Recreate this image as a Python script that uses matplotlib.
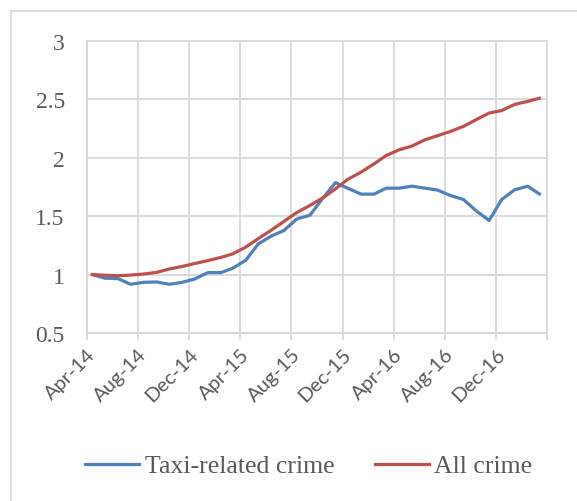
import matplotlib.pyplot as plt
import matplotlib.patches as mpatches
import pandas as pd

# monthly index, Apr-2014 .. Mar-2017 (plotted mid-month like the Excel date axis)
months = pd.date_range("2014-04-01", periods=36, freq="MS") + pd.Timedelta(days=13)

taxi_crime = [1.00, 0.969, 0.966, 0.917, 0.934, 0.937, 0.917, 0.934, 0.963, 1.017,
              1.017, 1.054, 1.122, 1.262, 1.330, 1.377, 1.477, 1.508, 1.650, 1.788,
              1.738, 1.689, 1.689, 1.740, 1.740, 1.757, 1.740, 1.724, 1.677, 1.643,
              1.547, 1.463, 1.643, 1.726, 1.757, 1.690]
all_crime = [1.00, 0.995, 0.990, 0.996, 1.005, 1.019, 1.048, 1.070, 1.095, 1.120,
             1.147, 1.177, 1.235, 1.308, 1.380, 1.455, 1.532, 1.592, 1.655, 1.734,
             1.817, 1.877, 1.948, 2.020, 2.069, 2.100, 2.154, 2.189, 2.226, 2.269,
             2.326, 2.383, 2.405, 2.457, 2.483, 2.510]

tick_dates = pd.date_range("2014-04-01", "2017-04-01", freq="4MS")
tick_labels = ["Apr-14", "Aug-14", "Dec-14", "Apr-15", "Aug-15", "Dec-15",
               "Apr-16", "Aug-16", "Dec-16", ""]
y_ticks = [0.5, 1, 1.5, 2, 2.5, 3]

BLUE = "#4F81BD"
RED = "#C0504D"
GRID = "#D9D9D9"
TEXT = "#595959"

fig = plt.figure(figsize=(5.77, 5.02), dpi=100)
ax = fig.add_axes([87 / 577, 1 - 334 / 502, 460 / 577, 292 / 502])

# outer chart border (cropped on right/bottom)
fig.add_artist(mpatches.Rectangle((11 / 577, -0.2), 1.2, 1.2 - 12 / 502,
                                  transform=fig.transFigure, fill=False,
                                  edgecolor=GRID, linewidth=1.2))

ax.plot(months, taxi_crime, color=BLUE, linewidth=2.3, label="Taxi-related crime",
        solid_joinstyle="round")
ax.plot(months, all_crime, color=RED, linewidth=2.3, label="All crime",
        solid_joinstyle="round")

ax.set_xlim(tick_dates[0], tick_dates[-1])
ax.set_ylim(0.5, 3)
ax.set_yticks(y_ticks)
ax.set_yticklabels(["0.5", "1", "1.5", "2", "2.5", "3"],
                   family="Liberation Serif", fontsize=17, color=TEXT)
ax.set_xticks(tick_dates)
ax.set_xticklabels(tick_labels, rotation=45, ha="right", va="top",
                   rotation_mode="anchor", family="Lato", fontsize=14.5, color=TEXT)

ax.grid(True, color=GRID, linewidth=1.3)
ax.set_axisbelow(True)
for side in ax.spines:
    ax.spines[side].set_color(GRID)
    ax.spines[side].set_linewidth(1.3)
ax.tick_params(axis="x", length=5, width=1.3, color=GRID, pad=4)
ax.tick_params(axis="y", length=0, pad=16)

fig.legend(loc="center", bbox_to_anchor=(309 / 577, 1 - 467 / 502), ncol=2,
           frameon=False, prop={"family": "Liberation Serif", "size": 18.5},
           labelcolor=TEXT, handlelength=2.1, handletextpad=0.2, columnspacing=1.6)

fig.savefig("out.png", dpi=100)
